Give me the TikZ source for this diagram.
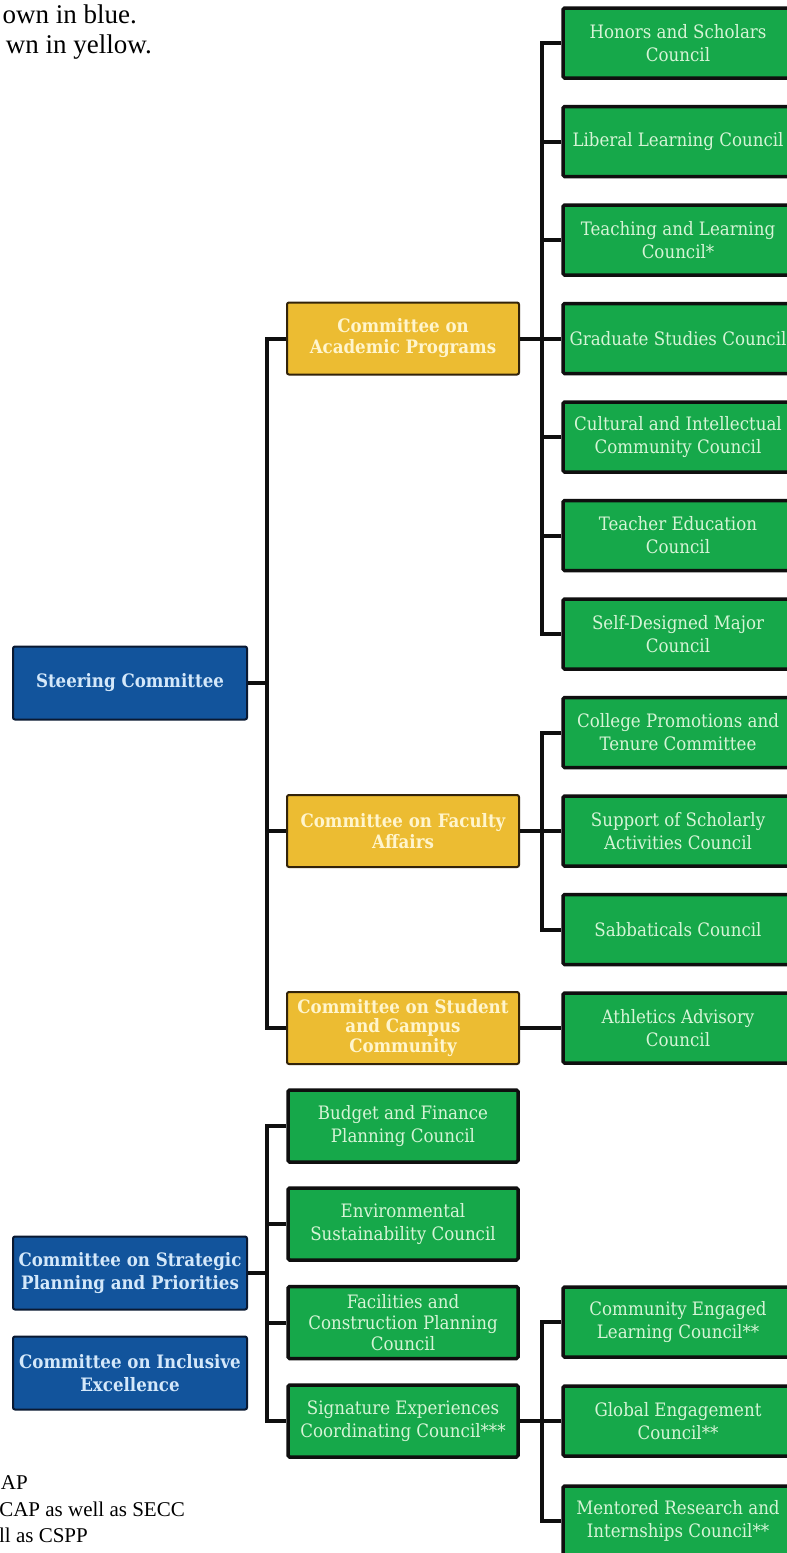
\documentclass[tikz,border=0pt]{standalone}
\usepackage{fontspec}
\setmainfont{DejaVu Serif Condensed}
\newfontfamily\tnr{Liberation Serif}
\definecolor{cgreen}{RGB}{22,168,74}
\definecolor{gtext}{RGB}{214,244,214}
\definecolor{cyellow}{RGB}{236,188,50}
\definecolor{ytext}{RGB}{255,245,205}
\definecolor{ydark}{RGB}{50,35,10}
\definecolor{cblue}{RGB}{18,84,156}
\definecolor{btext}{RGB}{212,232,250}
\definecolor{bdark}{RGB}{10,25,50}
\definecolor{lineblack}{RGB}{15,15,15}
\begin{document}
\begin{tikzpicture}[x=1pt,y=-1pt,
  boxtext/.style={font=\fontsize{18.5}{23}\selectfont},
  gbox/.style={rectangle,draw=lineblack,line width=3.5pt,fill=cgreen,text=gtext,
     minimum width=230pt,minimum height=70pt,align=center,inner sep=0pt,rounded corners=1.5pt,boxtext},
  ybox/.style={rectangle,draw=ydark,line width=2pt,fill=cyellow,text=ytext,
     minimum width=232pt,minimum height=72pt,align=center,inner sep=0pt,rounded corners=2pt,
     font=\bfseries\fontsize{18.5}{21}\selectfont},
  bbox/.style={rectangle,draw=bdark,line width=2pt,fill=cblue,text=btext,
     minimum width=234pt,minimum height=73pt,align=center,inner sep=0pt,rounded corners=2pt,
     font=\bfseries\fontsize{18.5}{23}\selectfont},
  mgbox/.style={gbox,minimum width=230pt,minimum height=72pt},
  conn/.style={draw=lineblack,line width=4pt},
  note/.style={font=\tnr\fontsize{27}{30}\selectfont,anchor=base east,inner sep=0pt},
  foot/.style={font=\tnr\fontsize{21}{26}\selectfont,anchor=base east,inner sep=0pt}]
\clip (0,0) rectangle (787,1553);
\fill[white] (0,0) rectangle (787,1553);

% notes
\node[note] (n1) at (137,23) {own in blue.};
\node[note] (n2) at (152,53) {wn in yellow.};
\node[foot] (f1) at (28,1489) {AP};
\node[foot] (f2) at (185,1516) {CAP as well as SECC};
\node[foot] (f3) at (88,1542) {ll as CSPP};

% blue committees
\node[bbox] (steer) at (130,683) {Steering Committee};
\node[bbox] (cspp) at (130,1273) {Committee on Strategic\\Planning and Priorities};
\node[bbox] (cie) at (130,1373) {Committee on Inclusive\\Excellence};

% yellow committees
\node[ybox] (cap) at (403,338.5) {Committee on\\Academic Programs};
\node[ybox] (cfa) at (403,831) {Committee on Faculty\\Affairs};
\node[ybox,font=\bfseries\fontsize{18.5}{19.5}\selectfont] (cscc) at (403,1028) {Committee on Student\\and Campus\\Community};

% right column councils
\node[gbox] (hon) at (678,43) {Honors and Scholars\\Council};
\node[gbox] (lib) at (678,141.5) {Liberal Learning Council};
\node[gbox] (tlc) at (678,240) {Teaching and Learning\\Council*};
\node[gbox] (gsc) at (678,338.5) {Graduate Studies Council};
\node[gbox] (cicc) at (678,437) {Cultural and Intellectual\\Community Council};
\node[gbox] (tec) at (678,535.5) {Teacher Education\\Council};
\node[gbox] (sdm) at (678,634) {Self-Designed Major\\Council};
\node[gbox] (cpt) at (678,732.5) {College Promotions and\\Tenure Committee};
\node[gbox] (ssa) at (678,831) {Support of Scholarly\\Activities Council};
\node[gbox] (sab) at (678,929.5) {Sabbaticals Council};
\node[gbox] (ath) at (678,1028) {Athletics Advisory\\Council};

% CSPP councils
\node[mgbox] (bud) at (403,1126) {Budget and Finance\\Planning Council};
\node[mgbox] (env) at (403,1224) {Environmental\\Sustainability Council};
\node[mgbox,font=\fontsize{18.5}{21}\selectfont] (fac) at (403,1322.5) {Facilities and\\Construction Planning\\Council};
\node[mgbox] (sig) at (403,1421) {Signature Experiences\\Coordinating Council***};

% SECC councils
\node[gbox] (cel) at (678,1322) {Community Engaged\\Learning Council**};
\node[gbox] (gec) at (678,1421) {Global Engagement\\Council**};
\node[gbox] (mri) at (678,1521) {Mentored Research and\\Internships Council**};

% junctions
\coordinate (t1) at (267,683);
\coordinate (a1) at (542,338.5);
\coordinate (c1) at (542,831);
\coordinate (s1) at (267,1273);
\coordinate (e1) at (542,1421);

% steering connectors
\draw[conn] (steer.east) -- (steer.east -| t1);
\draw[conn] (cap.west) -| (t1) |- (cscc.west);
\draw[conn] (cfa.west) -- (cfa.west -| t1);

% CAP connectors
\draw[conn] (cap.east) -- (cap.east -| a1);
\draw[conn] (hon.west) -| (a1) |- (sdm.west);
\foreach \n in {lib,tlc,gsc,cicc,tec} \draw[conn] (\n.west) -- (\n.west -| a1);

% CFA connectors
\draw[conn] (cfa.east) -- (cfa.east -| c1);
\draw[conn] (cpt.west) -| (c1) |- (sab.west);
\draw[conn] (ssa.west) -- (ssa.west -| c1);

% CSCC
\draw[conn] (cscc.east) -- (ath.west);

% CSPP connectors
\draw[conn] (cspp.east) -- (cspp.east -| s1);
\draw[conn] (bud.west) -| (s1) |- (sig.west);
\draw[conn] (env.west) -- (env.west -| s1);
\draw[conn] (fac.west) -- (fac.west -| s1);

% SECC connectors
\draw[conn] (sig.east) -- (sig.east -| e1);
\draw[conn] (cel.west) -| (e1) |- (mri.west);
\draw[conn] (gec.west) -- (gec.west -| e1);
\end{tikzpicture}
\end{document}
